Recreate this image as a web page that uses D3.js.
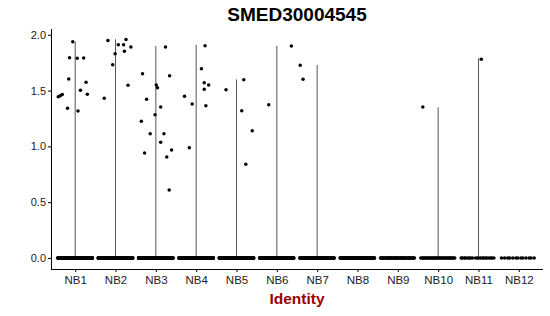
<!DOCTYPE html>
<html>
<head>
<meta charset="utf-8">
<script src="https://cdn.jsdelivr.net/npm/d3@7"></script>
<style>
  body { margin: 0; background: #fff; }
  text { font-family: "Liberation Sans", Arial, sans-serif; }
</style>
</head>
<body>
<div class="chart"></div>
<script>
var clusters = ["NB1","NB2","NB3","NB4","NB5","NB6","NB7","NB8","NB9","NB10","NB11","NB12"];
// number of cells with zero expression in each cluster
var zeroCounts = [300, 290, 270, 300, 220, 130, 120, 130, 50, 34, 20, 13];
// highest value in each cluster (top of violin)
var maxValues = [1.94, 1.96, 1.90, 1.91, 1.60, 1.90, 1.73, 0, 0, 1.35, 1.79, 0];
// expressing cells: values and their jitter (in category widths), one list per cluster
var exprValues = [
  [1.445, 1.454, 1.466, 1.341, 1.604, 1.795, 1.938, 1.789, 1.317, 1.502, 1.792, 1.574, 1.467],
  [1.431, 1.95, 1.732, 1.83, 1.911, 1.911, 1.852, 1.957, 1.547, 1.89],
  [1.652, 1.225, 0.941, 1.422, 1.114, 1.284, 1.55, 1.526, 1.353, 1.037, 1.114, 1.89, 0.905, 0.609, 1.634, 0.968],
  [1.449, 0.988, 1.38, 1.696, 1.571, 1.511, 1.902, 1.365, 1.55],
  [1.508, 1.32, 1.598, 0.839, 1.141],
  [1.374, 1.90],
  [1.727, 1.601],
  [], [],
  [1.353],
  [1.78],
  []
];
var exprJitter = [
  [-0.42, -0.37, -0.32, -0.19, -0.16, -0.14, -0.06, 0.05, 0.07, 0.13, 0.21, 0.27, 0.30],
  [-0.28, -0.19, -0.07, -0.01, 0.07, 0.20, 0.22, 0.26, 0.31, 0.38],
  [-0.33, -0.36, -0.28, -0.23, -0.14, -0.02, 0.01, 0.04, 0.12, 0.12, 0.20, 0.24, 0.27, 0.33, 0.34, 0.39],
  [-0.29, -0.17, -0.10, 0.13, 0.20, 0.20, 0.22, 0.24, 0.31],
  [-0.26, 0.13, 0.18, 0.23, 0.39],
  [-0.20, 0.36],
  [-0.42, -0.35],
  [], [],
  [-0.38],
  [0.07],
  []
];
var yTicks = [0, 0.5, 1.0, 1.5, 2.0];

var width = 550, height = 316;
var margin = { left: 51, right: 7, top: 29, bottom: 47 };

var svg = d3.select('.chart')
  .append('svg')
  .attr('width', width)
  .attr('height', height);

// discrete axis with ggplot-like 0.6 expansion on each side
var x = d3.scalePoint()
  .domain(clusters)
  .range([margin.left + 0.6 * (width - margin.left - margin.right) / 12.2,
          width - margin.right - 0.6 * (width - margin.left - margin.right) / 12.2]);
var step = x.step();

var y = d3.scaleLinear()
  .domain([-0.099, 2.052])
  .range([height - margin.bottom, margin.top]);

// violins (squashed to a stem above the zero mass)
svg.append('g')
  .selectAll('line')
  .data(clusters.filter(function(d, i) { return maxValues[i] > 0; }))
  .enter()
  .append('line')
  .attr('x1', function(d) { return x(d); })
  .attr('x2', function(d) { return x(d); })
  .attr('y1', y(0))
  .attr('y2', function(d) { return y(maxValues[clusters.indexOf(d)]); })
  .attr('stroke', '#555')
  .attr('stroke-width', 1);

// zero points, spread evenly across the jitter width
var zeros = [];
clusters.forEach(function(c, i) {
  for (var k = 0; k < zeroCounts[i]; k++) {
    zeros.push({ c: c, j: ((k * 0.6180339887) % 1) * 0.86 - 0.43, v: 0 });
  }
});
var expr = [];
clusters.forEach(function(c, i) {
  exprValues[i].forEach(function(v, k) {
    expr.push({ c: c, j: exprJitter[i][k], v: v });
  });
});

svg.append('g')
  .selectAll('circle')
  .data(zeros.concat(expr))
  .enter()
  .append('circle')
  .attr('cx', function(d) { return x(d.c) + d.j * step; })
  .attr('cy', function(d) { return y(d.v); })
  .attr('r', 1.75)
  .attr('fill', '#000');

// axes
var yAxis = svg.append('g')
  .attr('transform', 'translate(' + margin.left + ',0)')
  .call(d3.axisLeft(y).tickValues(yTicks).tickFormat(d3.format('.1f')).tickSizeOuter(0).tickSize(3).tickPadding(2));
yAxis.select('.domain').attr('stroke', '#000').attr('d', 'M0.5,' + margin.top + 'V' + (height - margin.bottom));
yAxis.selectAll('.tick line').attr('stroke', '#000');
yAxis.selectAll('.tick text').style('font-size', '11px').attr('fill', '#222');

var xAxis = svg.append('g')
  .attr('transform', 'translate(0,' + (height - margin.bottom) + ')')
  .call(d3.axisBottom(x).tickSizeOuter(0).tickSize(3).tickPadding(4));
xAxis.select('.domain').attr('stroke', '#000').attr('d', 'M' + margin.left + ',0.5H' + (width - margin.right));
xAxis.selectAll('.tick line').attr('stroke', '#000');
xAxis.selectAll('.tick text').style('font-size', '11.5px').attr('fill', '#222');

// titles
svg.append('text')
  .attr('x', (margin.left + width - margin.right) / 2)
  .attr('y', 20.5)
  .attr('text-anchor', 'middle')
  .style('font-size', '19px')
  .style('font-weight', 'bold')
  .text('SMED30004545');

svg.append('text')
  .attr('x', (margin.left + width - margin.right) / 2)
  .attr('y', 304)
  .attr('text-anchor', 'middle')
  .style('font-size', '15.5px')
  .style('font-weight', 'bold')
  .attr('fill', '#990000')
  .text('Identity');
</script>
</body>
</html>
